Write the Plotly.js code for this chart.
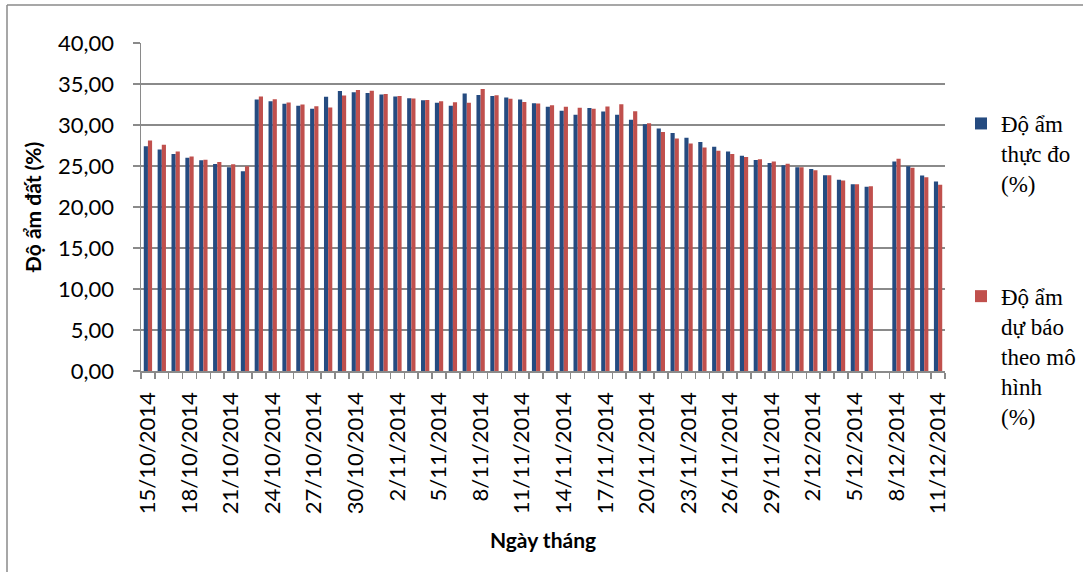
<!DOCTYPE html>
<html>
<head>
<meta charset="utf-8">
<script src="https://cdn.plot.ly/plotly-3.0.1.min.js"></script>
<style>
html,body{margin:0;padding:0;background:#fff;overflow:hidden;width:1083px;height:572px;}
#chart{width:1100px;height:572px;}
</style>
</head>
<body>
<div id="chart"></div>
<script>
const dates = [
  "15/10/2014","16/10/2014","17/10/2014","18/10/2014","19/10/2014","20/10/2014","21/10/2014","22/10/2014",
  "23/10/2014","24/10/2014","25/10/2014","26/10/2014","27/10/2014","28/10/2014","29/10/2014","30/10/2014",
  "31/10/2014","1/11/2014","2/11/2014","3/11/2014","4/11/2014","5/11/2014","6/11/2014","7/11/2014",
  "8/11/2014","9/11/2014","10/11/2014","11/11/2014","12/11/2014","13/11/2014","14/11/2014","15/11/2014",
  "16/11/2014","17/11/2014","18/11/2014","19/11/2014","20/11/2014","21/11/2014","22/11/2014","23/11/2014",
  "24/11/2014","25/11/2014","26/11/2014","27/11/2014","28/11/2014","29/11/2014","30/11/2014","1/12/2014",
  "2/12/2014","3/12/2014","4/12/2014","5/12/2014","6/12/2014","7/12/2014","8/12/2014","9/12/2014",
  "10/12/2014","11/12/2014"
];

const measured = [
  27.42,27.02,26.45,26.01,25.69,25.24,24.84,24.35,
  33.10,32.90,32.58,32.34,31.98,33.43,34.15,33.99,
  33.91,33.71,33.47,33.27,33.02,32.70,32.34,33.83,
  33.67,33.55,33.35,33.10,32.66,32.22,31.73,31.25,
  32.06,31.65,31.25,30.65,30.08,29.56,29.03,28.43,
  27.94,27.34,26.77,26.25,25.73,25.36,25.08,24.84,
  24.64,23.87,23.31,22.78,22.46,null,25.56,24.96,
  23.83,23.10
];

const predicted = [
  28.10,27.58,26.77,26.17,25.77,25.48,25.20,24.96,
  33.47,33.15,32.74,32.50,32.30,32.14,33.59,34.27,
  34.19,33.79,33.55,33.23,33.06,32.90,32.78,32.70,
  34.40,33.63,33.19,32.82,32.62,32.42,32.22,32.10,
  31.98,32.26,32.54,31.69,30.20,29.15,28.35,27.74,
  27.26,26.85,26.45,26.09,25.81,25.56,25.28,24.84,
  24.48,23.87,23.23,22.78,22.54,null,25.89,24.80,
  23.63,22.70
];

const seriesNames = ["Độ ẩm<br>thực đo<br>(%)", "Độ ẩm<br>dự báo<br>theo mô<br>hình<br>(%)"];
const yTickVals = [0,5,10,15,20,25,30,35,40];
const xTitle = "Ngày tháng";
const yTitle = "Độ ẩm đất (%)";

// show every third date as a label
const tickText = dates.map((d, i) => (i % 3 === 0 ? d : ""));

const gridGray = "#8a8a8a";
const tickFont = {family: "Lato, 'Open Sans', sans-serif", size: 22, color: "#000"};

const traces = [
  {type: "bar", name: seriesNames[0], x: dates, y: measured,
   marker: {color: "#254b80"}, legendgroup: "a"},
  {type: "bar", name: seriesNames[1], x: dates, y: predicted,
   marker: {color: "#c0504d"}, legendgroup: "b"}
];

// plot area in page pixels; the drawing is slightly wider than the window so the
// legend can run past the right edge and be cut off, as in the reference
const L = 141, R = 945, T = 43, B = 371;
const W = 1100, H = 572;
const px = v => (v - L) / (R - L);
const py = v => (B - v) / (B - T);

const layout = {
  width: W, height: H,
  margin: {l: L, r: W - R, t: T, b: H - B, pad: 0},
  paper_bgcolor: "#fff", plot_bgcolor: "#fff",
  separators: ", ",
  barmode: "group", bargap: 0.4, bargroupgap: 0,
  showlegend: true,
  legend: {
    x: px(961), xanchor: "left", y: py(102), yanchor: "top",
    font: {family: "'Liberation Serif', 'Times New Roman', serif", size: 23, color: "#000"},
    tracegroupgap: 80, traceorder: "grouped", valign: "top",
    bgcolor: "rgba(0,0,0,0)", borderwidth: 0
  },
  xaxis: {
    type: "category",
    range: [-0.5, dates.length - 0.5],
    tickmode: "array", tickvals: dates, ticktext: tickText,
    tickangle: -90, tickson: "boundaries",
    ticks: "outside", ticklen: 6, tickcolor: gridGray, tickwidth: 1.5,
    ticklabelstandoff: 11,
    showline: true, linecolor: gridGray, linewidth: 1.5,
    showgrid: false, zeroline: false,
    tickfont: tickFont,
    title: {text: xTitle, standoff: 20,
            font: {family: "Lato, 'Open Sans', sans-serif", size: 21, color: "#000", weight: "bold"}}
  },
  yaxis: {
    range: [0, 40],
    tickmode: "array", tickvals: yTickVals, tickformat: ".2f",
    ticks: "outside", ticklen: 7, tickcolor: gridGray, tickwidth: 1.5,
    ticklabelstandoff: 14,
    showline: true, linecolor: gridGray, linewidth: 1.5,
    showgrid: true, gridcolor: gridGray, gridwidth: 1.5,
    zeroline: false,
    tickfont: tickFont,
    title: {text: yTitle, standoff: 10,
            font: {family: "Lato, 'Open Sans', sans-serif", size: 21, color: "#000", weight: "bold"}}
  },
  shapes: [
    {type: "line", xref: "paper", yref: "paper", x0: px(7), x1: px(7), y0: py(5), y1: py(H + 2),
     line: {color: "#8a8a8a", width: 1.5}},
    {type: "line", xref: "paper", yref: "paper", x0: px(7), x1: px(W + 2), y0: py(5), y1: py(5),
     line: {color: "#8a8a8a", width: 1.5}}
  ]
};

Plotly.newPlot("chart", traces, layout, {displayModeBar: false, staticPlot: true});
</script>
</body>
</html>
